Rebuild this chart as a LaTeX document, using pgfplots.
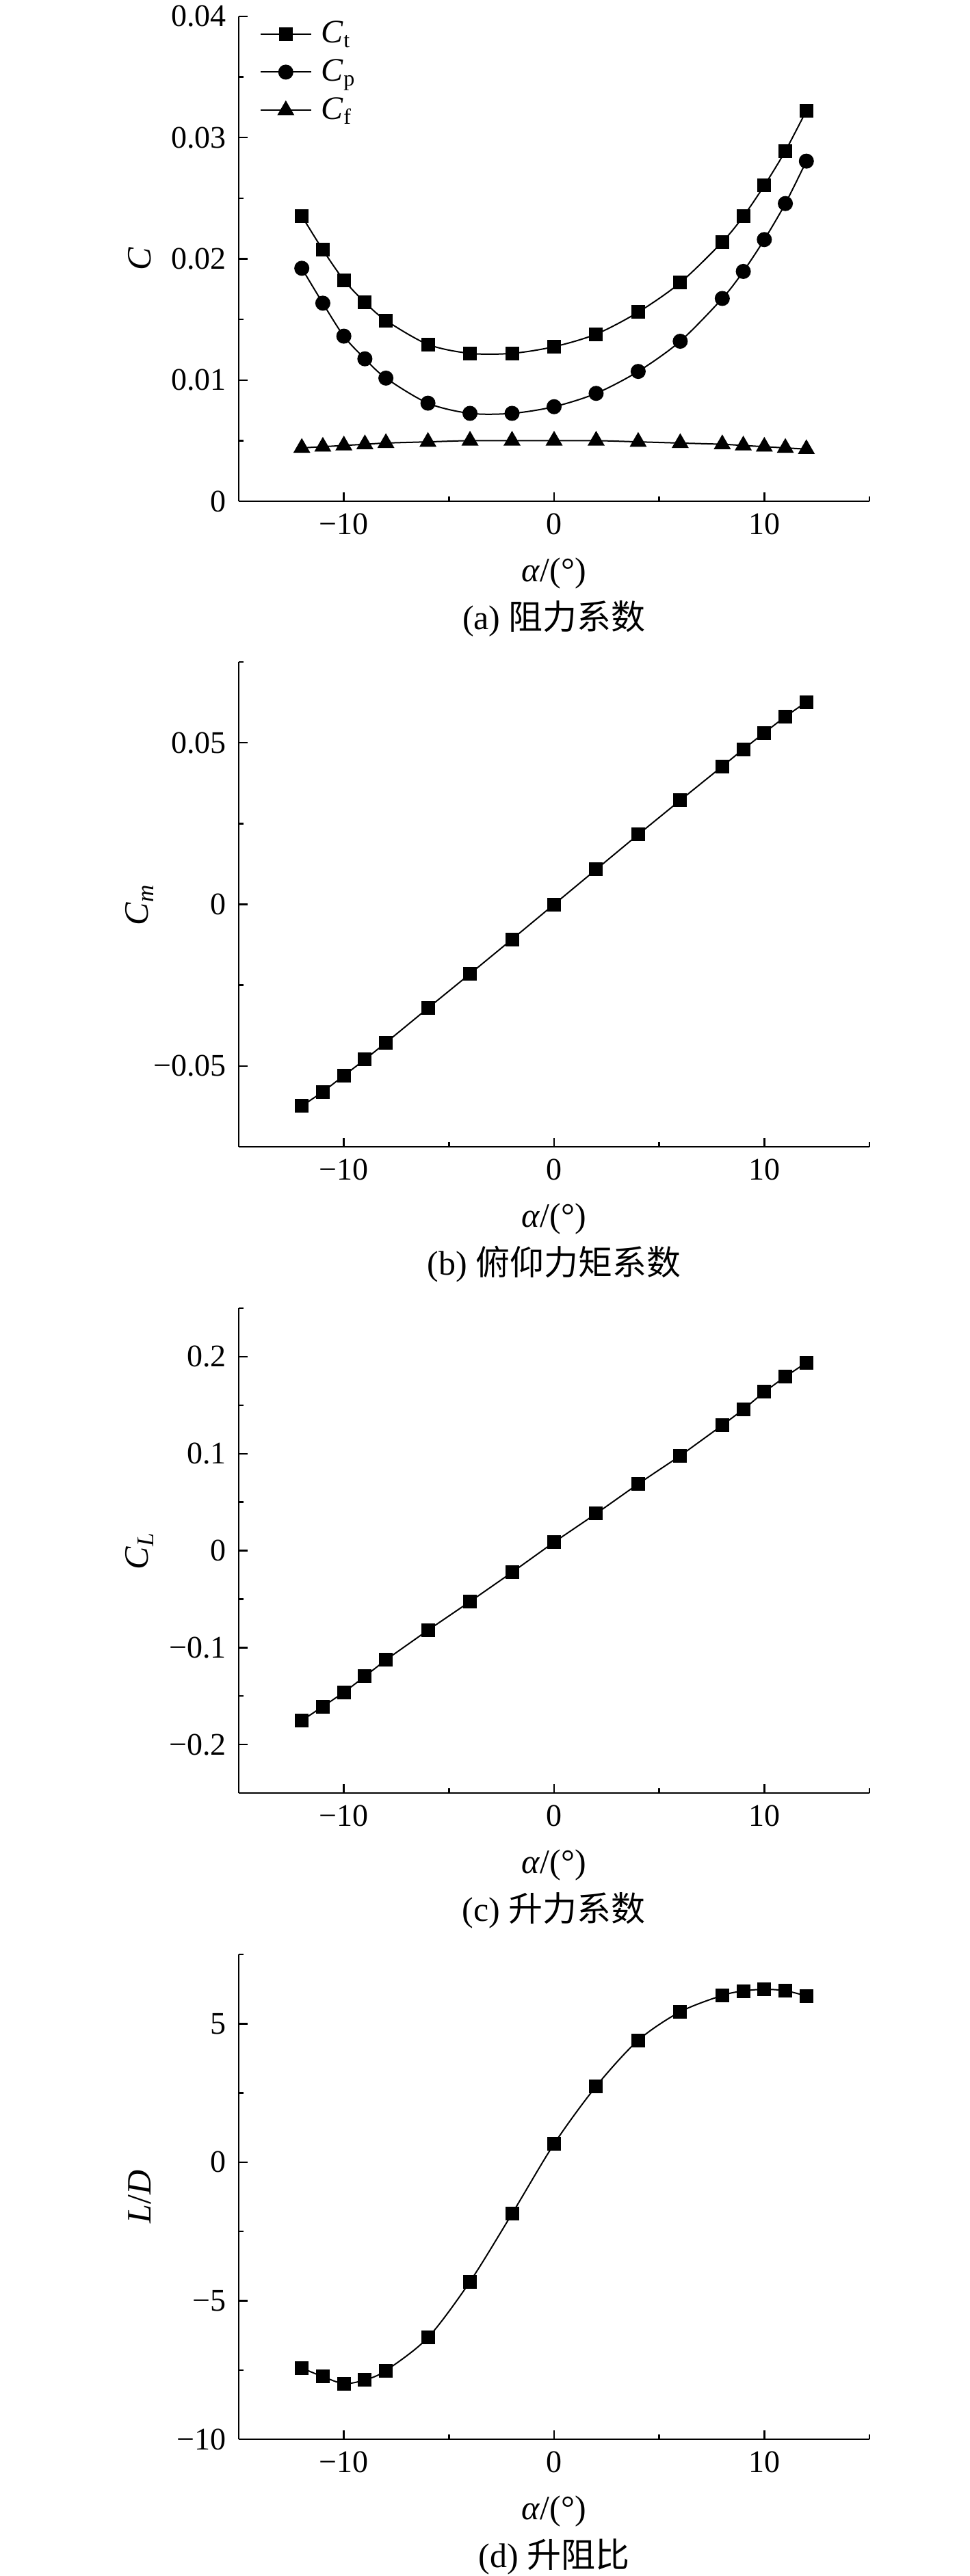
\documentclass[border=0pt]{standalone}
\usepackage{fontspec}
\setmainfont{Liberation Serif}
\newfontfamily\cjk{Noto Sans CJK SC}
\usepackage{pgfplots}
\usepackage{pgfplotstable}
\pgfplotsset{compat=1.18}

\pgfplotstableread{
a    Ct      Cp      Cf      Cm      CL      LD
-12  0.02353 0.01922 0.0044 -0.0624 -0.1753 -7.43
-11  0.02074 0.01634 0.0045 -0.0580 -0.1608 -7.74
-10  0.01825 0.01362 0.0046 -0.0530 -0.1463 -7.99
-9   0.01641 0.01175 0.0047 -0.0480 -0.1297 -7.86
-8   0.01492 0.01016 0.0048 -0.0428 -0.1127 -7.52
-6   0.01294 0.00809 0.0049 -0.0321 -0.0821 -6.33
-4   0.01220 0.00725 0.0050 -0.0215 -0.0526 -4.31
-2   0.01220 0.00725 0.0050 -0.0108 -0.0224 -1.86
0    0.01275 0.00780 0.0050  0.0000  0.0087  0.66
2    0.01379 0.00890 0.0050  0.0108  0.0381  2.74
4    0.01560 0.01071 0.0049  0.0216  0.0688  4.40
6    0.01803 0.01320 0.0048  0.0322  0.0978  5.43
8    0.02139 0.01673 0.0047  0.0427  0.1293  6.02
9    0.02350 0.01896 0.0046  0.0480  0.1455  6.18
10   0.02605 0.02159 0.0045  0.0531  0.1637  6.24
11   0.02890 0.02456 0.0044  0.0581  0.1794  6.19
12   0.03223 0.02806 0.0043  0.0626  0.1939  6.00
}\data

\tikzset{capnode/.style={font=\fontsize{12.5}{15}\selectfont, anchor=center, yshift=-43pt}}

\pgfplotsset{
  panel/.style={
    scale only axis, width=230.5pt, height=177.25pt,
    axis lines*=left,
    xmin=-15, xmax=15,
    scaled ticks=false,
    xtick={-10,0,10}, xticklabels={−10,0,10},
    minor xtick={-5,5,15},
    tick align=inside,
    major tick length=3.25pt, minor tick length=1.75pt,
    every tick/.style={black, line width=0.6pt},
    axis line style={line width=0.67pt},
    tick label style={font=\fontsize{11.5}{13}\selectfont},
    xticklabel style={yshift=-1pt},
    yticklabel style={xshift=-1pt},
    label style={font=\fontsize{12.5}{15}\selectfont},
    xlabel={\textit{α}/(°)},
    xlabel style={at={(axis description cs:0.5,0)}, anchor=center, yshift=-26.25pt},
    ylabel style={at={(axis description cs:0,0.5)}, anchor=center, yshift=36.25pt},
    clip=false,
    every axis plot/.append style={black, line width=0.5pt},
  },
}

\begin{document}
\begin{tikzpicture}
\useasboundingbox (-87.25pt,6pt) rectangle (267pt,-935.75pt);

% (a)
\begin{axis}[panel, at={(0pt,0pt)}, anchor=north west,
  ymin=0, ymax=0.04,
  ytick={0,0.01,0.02,0.03,0.04}, yticklabels={0,0.01,0.02,0.03,0.04},
  minor ytick={0.005,0.015,0.025,0.035},
  ylabel={\textit{C}},
  legend style={at={(rel axis cs:0,1)}, anchor=north west, draw=none, fill=none,
    xshift=7.5pt, yshift=-0.5pt, font=\fontsize{12}{14}\selectfont,
    row sep=2.5pt, inner sep=0pt, nodes={inner sep=1pt},
    /tikz/every odd column/.append style={column sep=2.5pt}},
  legend cell align=left,
  legend image code/.code={\draw[mark repeat=2,mark phase=2,#1] plot coordinates {(0pt,0pt)(9.25pt,0pt)(18.5pt,0pt)};},
]
\addplot[smooth, mark=square*, mark size=2.25pt] table[x=a,y=Ct]{\data};
\addlegendentry{\textit{C}\textsubscript{t}}
\addplot[smooth, mark=*, mark size=2.5pt] table[x=a,y=Cp]{\data};
\addlegendentry{\textit{C}\textsubscript{p}}
\addplot[smooth, mark=triangle*, mark size=3.1pt] table[x=a,y=Cf]{\data};
\addlegendentry{\textit{C}\textsubscript{f}}
\node[capnode] at (rel axis cs:0.5,0) {(a) {\cjk 阻力系数}};
\end{axis}

% (b)
\begin{axis}[panel, at={(0pt,-236pt)}, anchor=north west,
  ymin=-0.075, ymax=0.075,
  ytick={-0.05,0,0.05}, yticklabels={−0.05,0,0.05},
  minor ytick={-0.025,0.025,0.075},
  ylabel={\textit{C}\textsubscript{\textit{m}}},
]
\addplot[mark=square*, mark size=2.25pt] table[x=a,y=Cm]{\data};
\node[capnode] at (rel axis cs:0.5,0) {(b) {\cjk 俯仰力矩系数}};
\end{axis}

% (c)
\begin{axis}[panel, at={(0pt,-472.25pt)}, anchor=north west,
  ymin=-0.25, ymax=0.25,
  ytick={-0.2,-0.1,0,0.1,0.2}, yticklabels={−0.2,−0.1,0,0.1,0.2},
  minor ytick={-0.15,-0.05,0.05,0.15,0.25},
  ylabel={\textit{C}\textsubscript{\textit{L}}},
]
\addplot[mark=square*, mark size=2.25pt] table[x=a,y=CL]{\data};
\node[capnode] at (rel axis cs:0.5,0) {(c) {\cjk 升力系数}};
\end{axis}

% (d)
\begin{axis}[panel, at={(0pt,-708.5pt)}, anchor=north west,
  ymin=-10, ymax=7.5,
  ytick={-10,-5,0,5}, yticklabels={−10,−5,0,5},
  minor ytick={-7.5,-2.5,2.5,7.5},
  ylabel={\textit{L}/\textit{D}},
]
\addplot[smooth, mark=square*, mark size=2.25pt] table[x=a,y=LD]{\data};
\node[capnode] at (rel axis cs:0.5,0) {(d) {\cjk 升阻比}};
\end{axis}
\end{tikzpicture}
\end{document}
